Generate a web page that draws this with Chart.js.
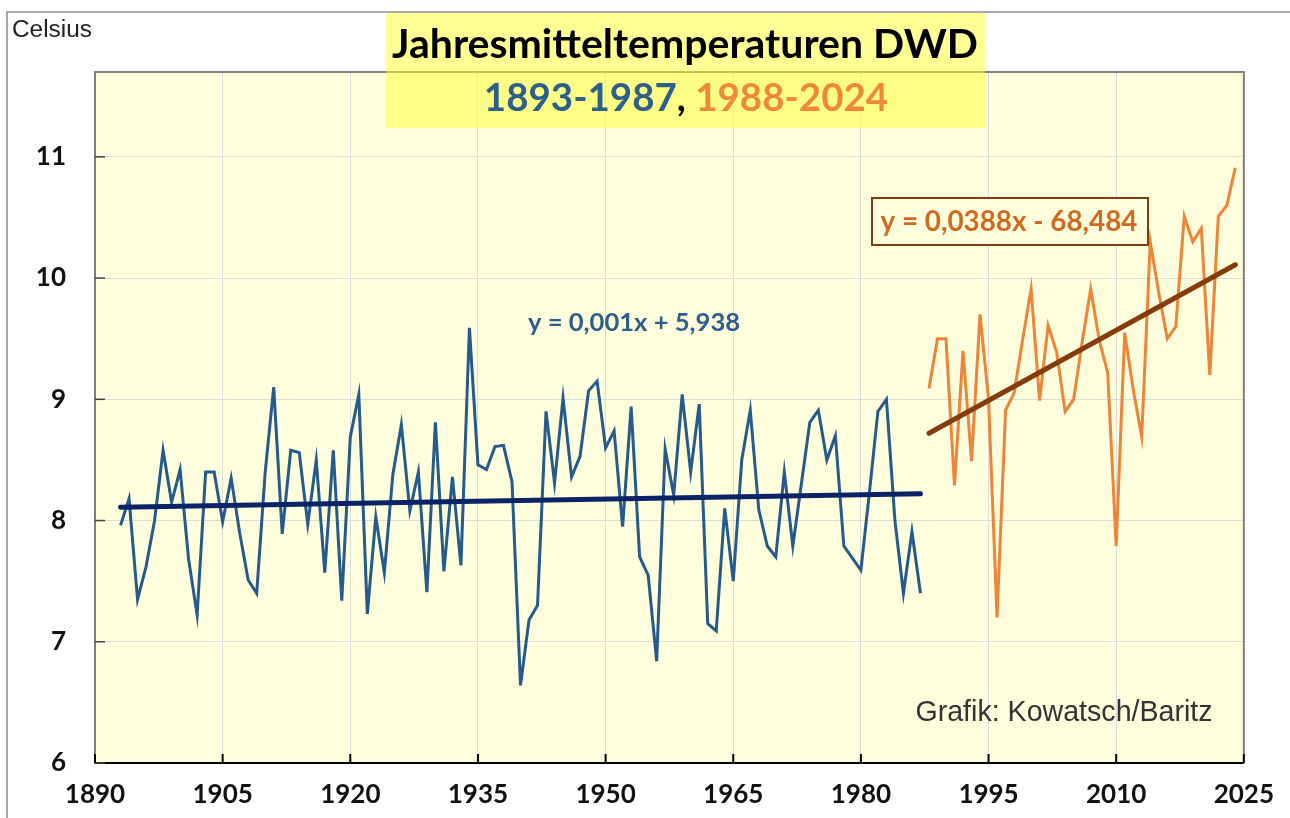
<!DOCTYPE html>
<html>
<head>
<meta charset="utf-8">
<title>Jahresmitteltemperaturen DWD</title>
<script src="https://cdn.jsdelivr.net/npm/chart.js@4.4.1/dist/chart.umd.min.js"></script>
<style>
  html, body { margin: 0; padding: 0; background: #fff; }
  #wrap { width: 1290px; height: 818px; position: relative; }
</style>
</head>
<body>
<div id="wrap"><canvas id="tempChart"></canvas></div>
<script>
// --- Data ---
const firstYearOld = 1893;
const tempOld = [
  7.96, 8.18, 7.35, 7.62, 8.00, 8.58, 8.15, 8.42, 7.68, 7.22,
  8.40, 8.40, 7.99, 8.35, 7.90, 7.51, 7.40, 8.40, 9.10, 7.89,
  8.58, 8.56, 7.97, 8.50, 7.57, 8.58, 7.34, 8.69, 9.04, 7.23,
  8.03, 7.57, 8.38, 8.79, 8.08, 8.40, 7.41, 8.81, 7.58, 8.36,
  7.63, 9.59, 8.46, 8.42, 8.61, 8.62, 8.32, 6.64, 7.18, 7.30,
  8.90, 8.31, 9.01, 8.36, 8.53, 9.07, 9.15, 8.60, 8.74, 7.95,
  8.94, 7.70, 7.55, 6.84, 8.59, 8.21, 9.04, 8.40, 8.96, 7.15,
  7.09, 8.10, 7.50, 8.50, 8.91, 8.09, 7.79, 7.70, 8.40, 7.79,
  8.30, 8.81, 8.91, 8.50, 8.70, 7.79, 7.69, 7.59, 8.23, 8.90,
  9.00, 8.00, 7.40, 7.91, 7.40
];

const firstYearNew = 1988;
const tempNew = [
  9.09, 9.50, 9.50, 8.29, 9.40, 8.49, 9.70, 9.00, 7.20, 8.91,
  9.05, 9.49, 9.91, 8.99, 9.61, 9.39, 8.90, 9.00, 9.47, 9.91,
  9.49, 9.22, 7.79, 9.55, 9.08, 8.69, 10.30, 9.88, 9.50, 9.60,
  10.51, 10.30, 10.41, 9.20, 10.51, 10.60, 10.91
];

// trend lines as drawn (end points)
const trendOldYears = [1893, 1987];
const trendOldValues = [8.11, 8.22];
const trendNewYears = [1988, 2024];
const trendNewValues = [8.72, 10.11];

const xTicks = [1890, 1905, 1920, 1935, 1950, 1965, 1980, 1995, 2010, 2025];
const yTicks = [6, 7, 8, 9, 10, 11];

const titleText = "Jahresmitteltemperaturen DWD";
const subOld = "1893-1987";
const subNew = "1988-2024";
const eqOld = "y = 0,001x + 5,938";
const eqNew = "y = 0,0388x - 68,484";
const creditText = "Grafik: Kowatsch/Baritz";

// --- Colours ---
const blueLine = "#245a8c";
const blueTrend = "#0a2266";
const orangeLine = "#ee8438";
const brownTrend = "#843c0c";

const toPoints = (start, values) => values.map((v, i) => ({ x: start + i, y: v }));
const pairPoints = (xs, ys) => xs.map((x, i) => ({ x: x, y: ys[i] }));

// fit a text to a wanted width
const fitFont = (ctx, text, style, family, width) => {
  ctx.font = `${style} 40px ${family}`;
  const size = 40 * width / ctx.measureText(text).width;
  return `${style} ${size.toFixed(1)}px ${family}`;
};

// --- Background, frame, title box ---
const decoPlugin = {
  id: "deco",
  beforeDraw(chart) {
    const { ctx, chartArea: a } = chart;
    ctx.save();
    ctx.fillStyle = "#ffffff";
    ctx.fillRect(0, 0, chart.width, chart.height);
    ctx.fillStyle = "#ffffdd";
    ctx.fillRect(a.left, a.top, a.right - a.left, a.bottom - a.top);
    // outer frame
    ctx.strokeStyle = "#8c8c8c";
    ctx.lineWidth = 1.5;
    ctx.beginPath();
    ctx.moveTo(7, chart.height);
    ctx.lineTo(7, 12);
    ctx.lineTo(chart.width, 12);
    ctx.stroke();
    ctx.restore();
  },
  beforeDatasetsDraw(chart) {
    const { ctx, chartArea: a, scales } = chart;
    ctx.save();
    // top / right border of the plot
    ctx.strokeStyle = "#7f7f7f";
    ctx.lineWidth = 2;
    ctx.beginPath();
    ctx.moveTo(a.left, a.top);
    ctx.lineTo(a.right, a.top);
    ctx.lineTo(a.right, a.bottom);
    ctx.stroke();
    // inner tick marks
    ctx.strokeStyle = "#404040";
    ctx.lineWidth = 1.5;
    yTicks.forEach(v => {
      const py = scales.y.getPixelForValue(v);
      ctx.beginPath();
      ctx.moveTo(a.left, py);
      ctx.lineTo(a.left + 10, py);
      ctx.stroke();
    });
    ctx.strokeStyle = "#000";
    ctx.lineWidth = 2;
    xTicks.forEach(v => {
      const px = scales.x.getPixelForValue(v);
      ctx.beginPath();
      ctx.moveTo(px, a.bottom);
      ctx.lineTo(px, a.bottom - 9);
      ctx.stroke();
    });
    // yellow title box (see-through)
    ctx.fillStyle = "rgba(255, 255, 60, 0.55)";
    ctx.fillRect(386, 13, 599, 115);
    ctx.restore();
  },
  afterDraw(chart) {
    const { ctx } = chart;
    ctx.save();
    ctx.textBaseline = "alphabetic";

    // title
    ctx.font = fitFont(ctx, titleText, "bold", "Lato", 586);
    ctx.fillStyle = "#000";
    ctx.textAlign = "center";
    ctx.fillText(titleText, 685, 58);

    // subtitle in two colours
    ctx.font = fitFont(ctx, subOld + ", " + subNew, "bold", "Lato", 404);
    ctx.textAlign = "left";
    const wOld = ctx.measureText(subOld).width;
    const wSep = ctx.measureText(", ").width;
    const wNew = ctx.measureText(subNew).width;
    let sx = 686 - (wOld + wSep + wNew) / 2;
    ctx.fillStyle = "#2d5f8c";
    ctx.fillText(subOld, sx, 111);
    sx += wOld;
    ctx.fillStyle = "#000";
    ctx.fillText(", ", sx, 111);
    sx += wSep;
    ctx.fillStyle = "#f0883a";
    ctx.fillText(subNew, sx, 111);

    // equation of old trend
    ctx.textAlign = "center";
    ctx.textBaseline = "middle";
    ctx.font = fitFont(ctx, eqOld, "bold", "Lato", 212);
    ctx.fillStyle = "#2d5f8c";
    ctx.fillText(eqOld, 634, 323);

    // equation of new trend, boxed
    ctx.fillStyle = "#ffffdd";
    ctx.fillRect(872, 198, 276, 47);
    ctx.strokeStyle = brownTrend;
    ctx.lineWidth = 2;
    ctx.strokeRect(872, 198, 276, 47);
    ctx.font = fitFont(ctx, eqNew, "bold", "Lato", 257);
    ctx.fillStyle = "#d06a22";
    ctx.fillText(eqNew, 1009, 222);

    // credit + unit
    ctx.font = fitFont(ctx, creditText, "normal", "'Liberation Sans', Arial", 297);
    ctx.fillStyle = "#333";
    ctx.fillText(creditText, 1064, 713);
    ctx.textAlign = "left";
    ctx.font = fitFont(ctx, "Celsius", "normal", "'Liberation Sans', Arial", 80);
    ctx.fillStyle = "#222";
    ctx.fillText("Celsius", 12, 30);
    ctx.restore();
  }
};

// --- Chart ---
const ctx = document.getElementById("tempChart");

new Chart(ctx, {
  type: "line",
  data: {
    datasets: [
      {
        label: "1893-1987",
        data: toPoints(firstYearOld, tempOld),
        borderColor: blueLine,
        borderWidth: 3,
        pointRadius: 0,
        tension: 0,
        order: 2
      },
      {
        label: "Trend 1893-1987",
        data: pairPoints(trendOldYears, trendOldValues),
        borderColor: blueTrend,
        borderWidth: 5,
        borderCapStyle: "round",
        pointRadius: 0,
        order: 1
      },
      {
        label: "1988-2024",
        data: toPoints(firstYearNew, tempNew),
        borderColor: orangeLine,
        borderWidth: 3,
        pointRadius: 0,
        tension: 0,
        order: 2
      },
      {
        label: "Trend 1988-2024",
        data: pairPoints(trendNewYears, trendNewValues),
        borderColor: brownTrend,
        borderWidth: 5,
        borderCapStyle: "round",
        pointRadius: 0,
        order: 1
      }
    ]
  },
  options: {
    responsive: true,
    maintainAspectRatio: false,
    animation: false,
    layout: { padding: { top: 72, right: 45, left: 0, bottom: 0 } },
    plugins: {
      legend: { display: false },
      tooltip: { enabled: false }
    },
    scales: {
      x: {
        type: "linear",
        min: 1890,
        max: 2025,
        afterBuildTicks: scale => { scale.ticks = xTicks.map(v => ({ value: v })); },
        afterFit: scale => { scale.height = 55; },
        ticks: {
          autoSkip: false,
          maxRotation: 0,
          padding: 16,
          color: "#111",
          font: { family: "Lato", weight: "bold", size: 26 },
          callback: v => String(v)
        },
        grid: { color: "#dcdcdc", lineWidth: 1, drawTicks: false },
        border: { color: "#000", width: 2 }
      },
      y: {
        min: 6,
        max: 11.7,
        afterBuildTicks: scale => { scale.ticks = yTicks.map(v => ({ value: v })); },
        afterFit: scale => { scale.width = 95; },
        ticks: {
          padding: 29,
          color: "#111",
          font: { family: "Lato", weight: "bold", size: 26 },
          callback: v => String(v)
        },
        grid: { color: "#dcdcdc", lineWidth: 1, drawTicks: false },
        border: { color: "#7f7f7f", width: 2 }
      }
    }
  },
  plugins: [decoPlugin]
});
console.log("chart drawn");
</script>
</body>
</html>
